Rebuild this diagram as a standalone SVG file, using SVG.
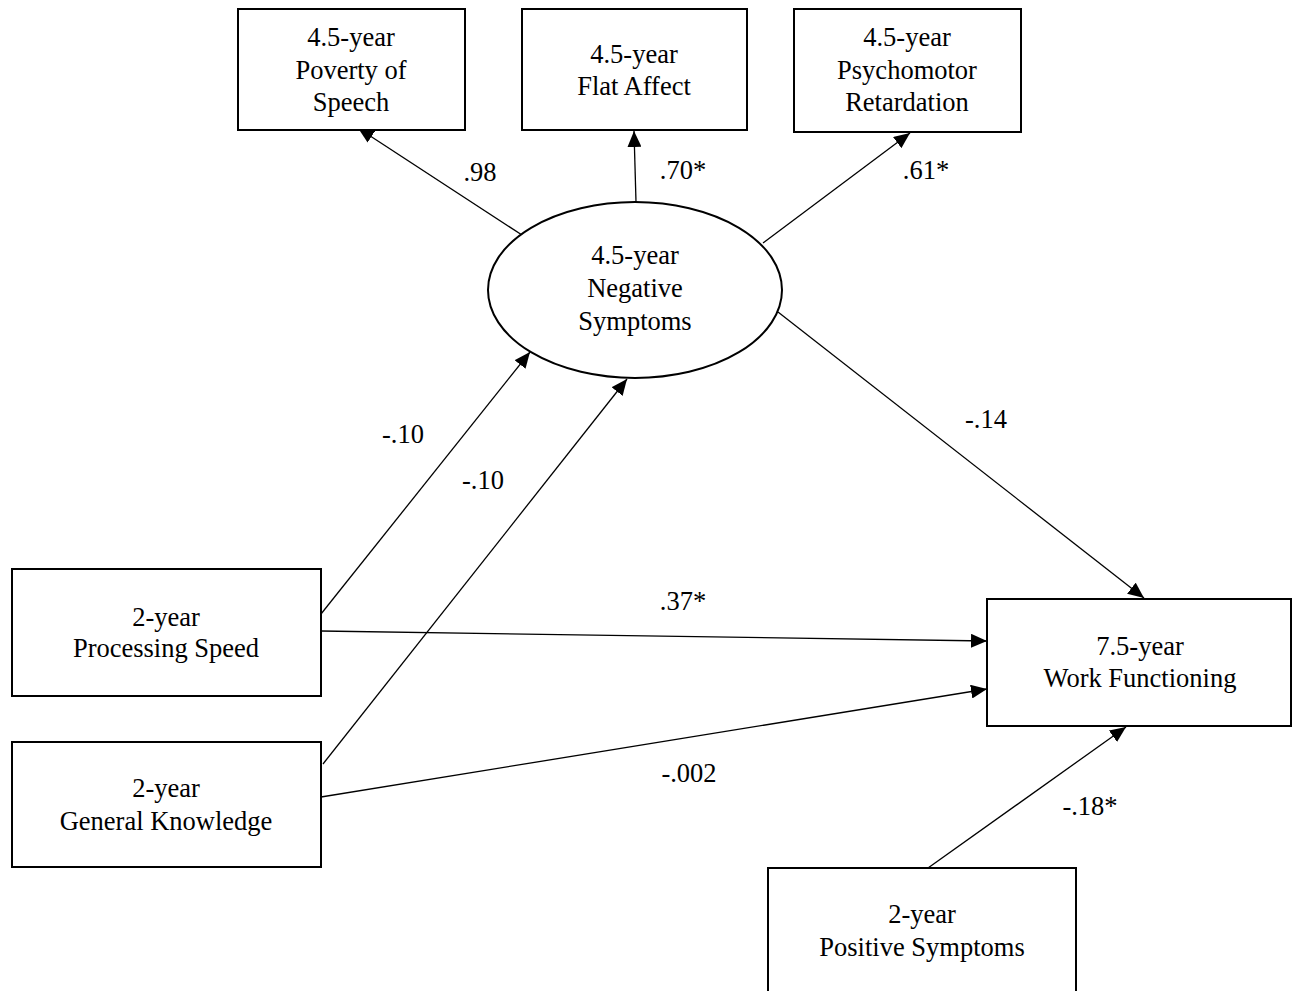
<svg xmlns="http://www.w3.org/2000/svg" width="1292" height="991" viewBox="0 0 1292 991">
<defs>
<style>
.box{fill:#fff;stroke:#000;stroke-width:2}
.t{font-family:"Liberation Serif","Times New Roman",serif;font-size:26.5px;fill:#000;text-anchor:middle}
.c{stroke:#000;stroke-width:1.3;fill:none;marker-end:url(#ah)}
</style>
<marker id="ah" viewBox="0 0 16 14" refX="16" refY="7" markerWidth="16" markerHeight="14" markerUnits="userSpaceOnUse" orient="auto">
<path d="M0,0 L16,7 L0,14 Z" fill="#000"/>
</marker>
</defs>
<rect width="1292" height="991" fill="#fff"/>
<g id="connectors">
<line class="c" x1="522" y1="235" x2="358" y2="128"/>
<line class="c" x1="636" y1="202" x2="634" y2="131"/>
<line class="c" x1="763" y1="243" x2="910" y2="133"/>
<line class="c" x1="778" y1="312" x2="1144" y2="598"/>
<line class="c" x1="321" y1="614" x2="530" y2="352"/>
<line class="c" x1="323" y1="764" x2="627" y2="379"/>
<line class="c" x1="321" y1="631" x2="987" y2="641"/>
<line class="c" x1="321" y1="797" x2="987" y2="689"/>
<line class="c" x1="928" y1="868" x2="1126" y2="727"/>
</g>
<g id="labels">
<text class="t" x="480" y="181">.98</text>
<text class="t" x="683" y="179">.70*</text>
<text class="t" x="926" y="179">.61*</text>
<text class="t" x="403" y="443">-.10</text>
<text class="t" x="483" y="489">-.10</text>
<text class="t" x="986" y="428">-.14</text>
<text class="t" x="683" y="610">.37*</text>
<text class="t" x="689" y="782">-.002</text>
<text class="t" x="1090" y="815">-.18*</text>
</g>
<g id="poverty">
<rect class="box" x="238" y="9" width="227" height="121"/>
<text class="t" x="351" y="46">4.5-year</text>
<text class="t" x="351" y="79">Poverty of</text>
<text class="t" x="351" y="111">Speech</text>
</g>
<g id="flat">
<rect class="box" x="522" y="9" width="225" height="121"/>
<text class="t" x="634" y="63">4.5-year</text>
<text class="t" x="634" y="95">Flat Affect</text>
</g>
<g id="psycho">
<rect class="box" x="794" y="9" width="227" height="123"/>
<text class="t" x="907" y="46">4.5-year</text>
<text class="t" x="907" y="79">Psychomotor</text>
<text class="t" x="907" y="111">Retardation</text>
</g>
<g id="negative">
<ellipse class="box" cx="635" cy="290" rx="147" ry="88"/>
<text class="t" x="635" y="264">4.5-year</text>
<text class="t" x="635" y="297">Negative</text>
<text class="t" x="635" y="330">Symptoms</text>
</g>
<g id="procspeed">
<rect class="box" x="12" y="569" width="309" height="127"/>
<text class="t" x="166" y="626">2-year</text>
<text class="t" x="166" y="657">Processing Speed</text>
</g>
<g id="genknow">
<rect class="box" x="12" y="742" width="309" height="125"/>
<text class="t" x="166" y="797">2-year</text>
<text class="t" x="166" y="830">General Knowledge</text>
</g>
<g id="work">
<rect class="box" x="987" y="599" width="304" height="127"/>
<text class="t" x="1140" y="655">7.5-year</text>
<text class="t" x="1140" y="687">Work Functioning</text>
</g>
<g id="positive">
<rect class="box" x="768" y="868" width="308" height="130"/>
<text class="t" x="922" y="923">2-year</text>
<text class="t" x="922" y="956">Positive Symptoms</text>
</g>
</svg>
